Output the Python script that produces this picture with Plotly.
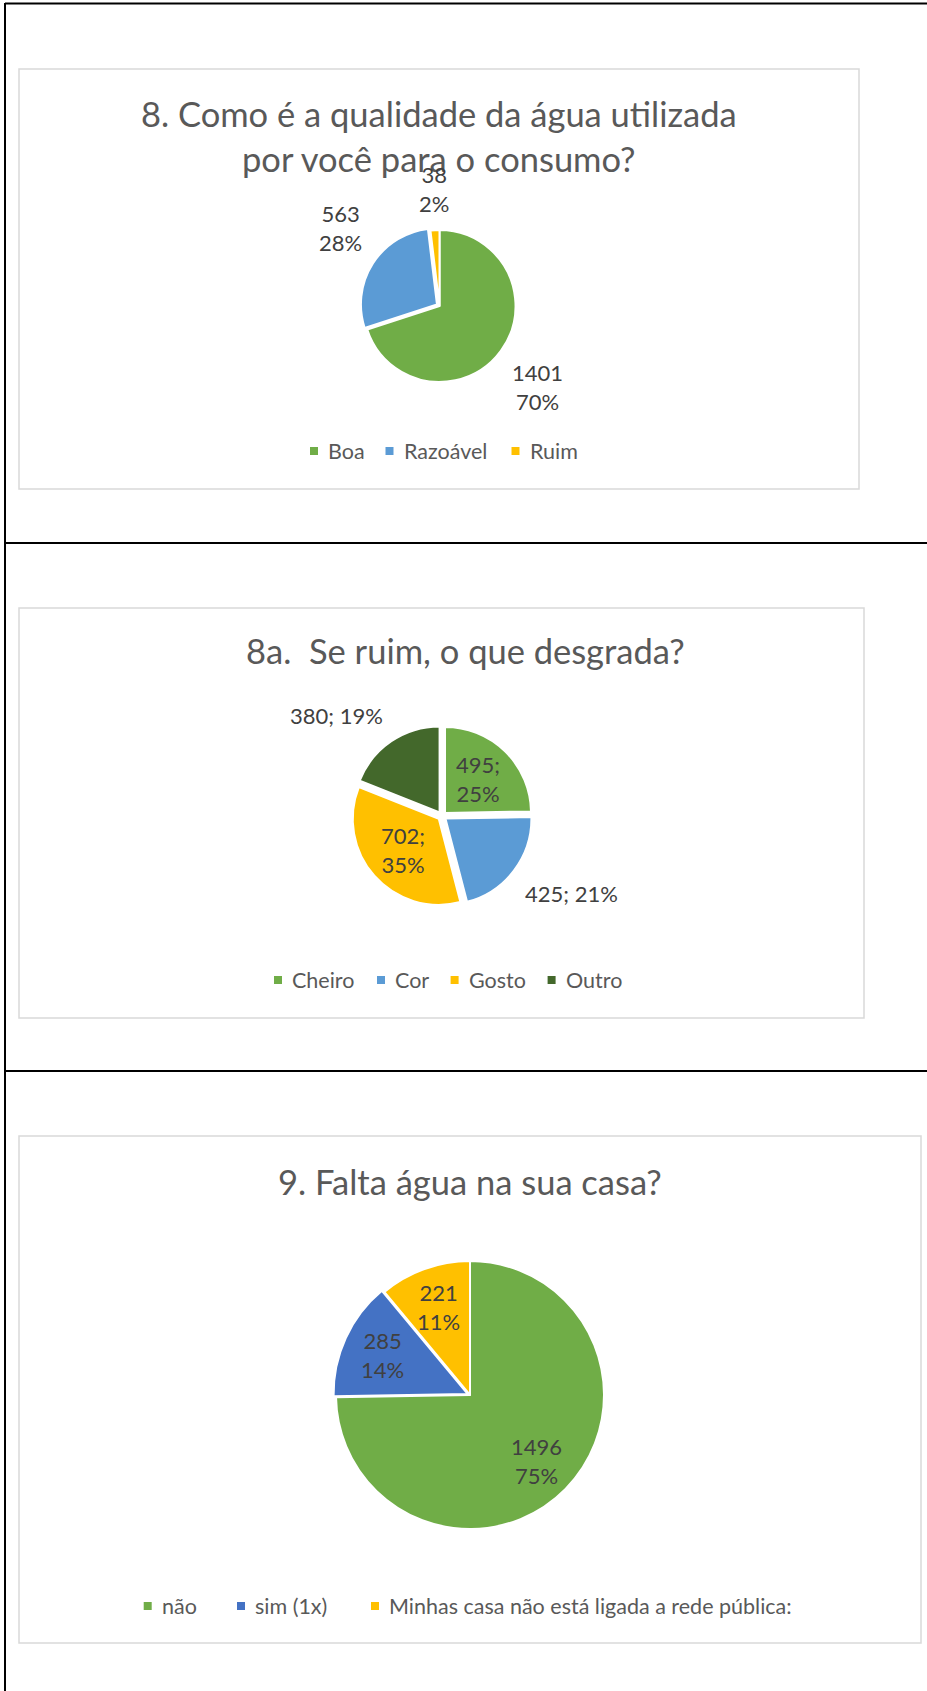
import math
import plotly.graph_objects as go

# ---------------- data ----------------
q8_title = "8. Como é a qualidade da água utilizada\npor você para o consumo?"
q8_labels = ["Boa", "Razoável", "Ruim"]
q8_values = [1401, 563, 38]

q8a_title = "8a.  Se ruim, o que desgrada?"
q8a_labels = ["Cheiro", "Cor", "Gosto", "Outro"]
q8a_values = [495, 425, 702, 380]

q9_title = "9. Falta água na sua casa?"
q9_labels = ["não", "sim (1x)", "Minhas casa não está ligada a rede pública:"]
q9_values = [1496, 285, 221]

# ---------------- style ----------------
W, H = 927, 1691
GREEN, BLUE, YELLOW, DKGREEN, BLUE2 = "#70AD47", "#5B9BD5", "#FFC000", "#43682B", "#4472C4"
FONT = "Lato, Calibri, 'Open Sans', sans-serif"
TITLE_C, LABEL_C, LEG_C = "#595959", "#404040", "#595959"
TITLE_SIZE, LABEL_SIZE, LEG_SIZE = 34.5, 22, 21.5

charts = [
    dict(title=q8_title, labels=q8_labels, values=q8_values,
         colors=[GREEN, BLUE, YELLOW], pulls=[0, 0.04, 0],
         center=(439.5, 306), r=76, title_xy=(438.5, 114), title_dy=45,
         mode=["out", "out", "out"], sep="<br>", in_sep="<br>", k_in=0.6, gap=11,
         box=(19, 69, 859, 489), leg_y=451, leg_x=[310, 385.5, 511.5]),
    dict(title=q8a_title, labels=q8a_labels, values=q8a_values,
         colors=[GREEN, BLUE, YELLOW, DKGREEN], pulls=[0.05, 0.05, 0.05, 0.05],
         center=(442, 816), r=86, title_xy=(466, 650), title_dy=45,
         mode=["in", "out", "in", "out"], sep="; ", in_sep=";<br>", k_in=0.55, gap=12,
         box=(19, 608, 864, 1018), leg_y=980, leg_x=[274, 377, 450.6, 547.6]),
    dict(title=q9_title, labels=q9_labels, values=q9_values,
         colors=[GREEN, BLUE2, YELLOW], pulls=[0, 0.02, 0],
         center=(470, 1395), r=134, title_xy=(470, 1181), title_dy=45,
         mode=["in", "in", "in"], sep="<br>", in_sep="<br>", k_in=0.7, gap=12,
         box=(19, 1136, 921, 1643), leg_y=1606, leg_x=[143.7, 237, 371]),
]


def px(x):
    return x / W


def py(y):
    return 1 - y / H


fig = go.Figure()
shapes = []
annotations = []

# outer black frame lines
shapes.append(dict(type="line", xref="paper", yref="paper", x0=px(5), x1=1, y0=py(3.5), y1=py(3.5),
                   line=dict(color="black", width=2)))
shapes.append(dict(type="line", xref="paper", yref="paper", x0=px(5), x1=px(5), y0=py(3), y1=0,
                   line=dict(color="black", width=2)))
for yy in (543, 1071):
    shapes.append(dict(type="line", xref="paper", yref="paper", x0=px(5), x1=1, y0=py(yy), y1=py(yy),
                       line=dict(color="black", width=2)))

for c in charts:
    x0, y0, x1, y1 = c["box"]
    shapes.append(dict(type="rect", xref="paper", yref="paper", x0=px(x0), x1=px(x1), y0=py(y1), y1=py(y0),
                       line=dict(color="#D9D9D9", width=1.5), fillcolor="rgba(0,0,0,0)", layer="below"))
    cx, cy = c["center"]
    r = c["r"]
    R = r * (1 + max(c["pulls"]))
    fig.add_trace(go.Pie(
        labels=c["labels"], values=c["values"], sort=False, direction="clockwise", rotation=0,
        pull=c["pulls"], textinfo="none", showlegend=False,
        marker=dict(colors=c["colors"], line=dict(color="white", width=2)),
        domain=dict(x=[px(cx - R), px(cx + R)], y=[py(cy + R), py(cy - R)]),
    ))

    # title lines
    tx, ty = c["title_xy"]
    for i, line in enumerate(c["title"].split("\n")):
        annotations.append(dict(text=line.replace("  ", " \u00a0"), x=px(tx), y=py(ty + i * c["title_dy"]),
                                xref="paper", yref="paper",
                                xanchor="center", yanchor="middle", showarrow=False,
                                font=dict(family=FONT, size=TITLE_SIZE, color=TITLE_C)))

    # data labels computed from slice geometry
    total = sum(c["values"])
    cum = 0
    for v, m, p in zip(c["values"], c["mode"], c["pulls"]):
        mid = (cum + v / 2) / total * 2 * math.pi
        cum += v
        s, co = math.sin(mid), math.cos(mid)
        pct = f"{round(100 * v / total)}%"
        if m == "in":
            d = c["k_in"] * r + p * r
            txt = f"{v}{c['in_sep']}{pct}"
            xa, ya = "center", "middle"
        else:
            d = r + p * r + c["gap"]
            txt = f"{v}{c['sep']}{pct}"
            xa = "center" if abs(s) < 0.25 else ("left" if s > 0 else "right")
            ya = "bottom" if co > 0 else "top"
        lx, ly = cx + d * s, cy - d * co
        annotations.append(dict(text=txt, x=px(lx), y=py(ly), xref="paper", yref="paper",
                                xanchor=xa, yanchor=ya, showarrow=False, align="center",
                                font=dict(family=FONT, size=LABEL_SIZE, color=LABEL_C)))

    # legend
    for lab, col, lx in zip(c["labels"], c["colors"], c["leg_x"]):
        ly = c["leg_y"]
        shapes.append(dict(type="rect", xref="paper", yref="paper", x0=px(lx), x1=px(lx + 8),
                           y0=py(ly + 4), y1=py(ly - 4), fillcolor=col, line=dict(width=0)))
        annotations.append(dict(text=lab, x=px(lx + 16), y=py(ly), xref="paper", yref="paper",
                                xanchor="left", yanchor="middle", showarrow=False,
                                font=dict(family=FONT, size=LEG_SIZE, color=LEG_C)))

fig.update_layout(width=W, height=H, autosize=False, margin=dict(l=0, r=0, t=0, b=0),
                  paper_bgcolor="white", plot_bgcolor="white",
                  shapes=shapes, annotations=annotations)

fig.write_html("out.html", config={"displayModeBar": False},
               post_script="document.body.style.margin='0';document.body.style.overflow='hidden';")
